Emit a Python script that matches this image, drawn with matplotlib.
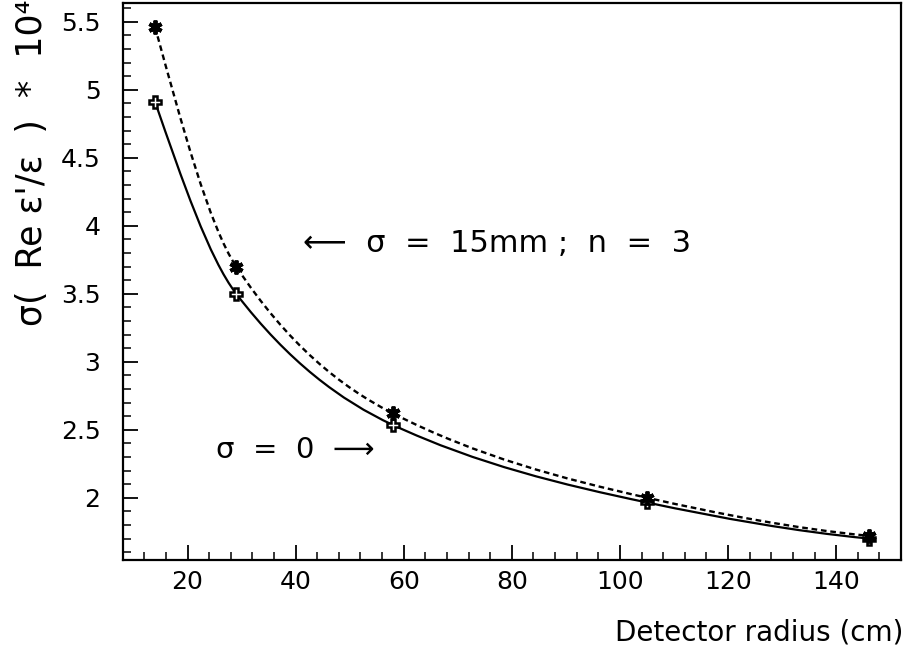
"""Resolution of Re(eps'/eps) versus detector radius."""
import numpy as np
import matplotlib

matplotlib.use("Agg")
import matplotlib.pyplot as plt
from matplotlib.path import Path
from matplotlib.patches import PathPatch
from matplotlib.ticker import MultipleLocator

plt.rcParams.update({
    "font.family": ["DejaVu Sans"],
    "xtick.direction": "in", "ytick.direction": "in",
    "axes.linewidth": 1.6,
})

# detector radius (cm) and sigma(Re eps'/eps) * 1e4
radius = [14, 29, 58, 105, 146]
sig_zero = [4.91, 3.50, 2.535, 1.965, 1.70]     # sigma = 0
sig_15mm = [5.46, 3.70, 2.62, 2.00, 1.72]       # sigma = 15mm ; n = 3


def smooth_path(x, y):
    # monotone cubic through the measured points, drawn as bezier segments
    x = np.asarray(x, float)
    y = np.asarray(y, float)
    h = np.diff(x)
    d = np.diff(y) / h
    m = np.zeros_like(x)
    for i in range(1, len(x) - 1):
        if d[i - 1] * d[i] > 0:
            w1, w2 = 2 * h[i] + h[i - 1], h[i] + 2 * h[i - 1]
            m[i] = (w1 + w2) / (w1 / d[i - 1] + w2 / d[i])
    m[0] = ((2 * h[0] + h[1]) * d[0] - h[0] * d[1]) / (h[0] + h[1])
    m[-1] = ((2 * h[-1] + h[-2]) * d[-1] - h[-1] * d[-2]) / (h[-1] + h[-2])
    verts, codes = [(x[0], y[0])], [Path.MOVETO]
    for i in range(len(h)):
        verts += [(x[i] + h[i] / 3, y[i] + m[i] * h[i] / 3),
                  (x[i + 1] - h[i] / 3, y[i + 1] - m[i + 1] * h[i] / 3),
                  (x[i + 1], y[i + 1])]
        codes += [Path.CURVE4] * 3
    return Path(verts, codes)


fig = plt.figure(figsize=(9.06, 6.52), dpi=100)
ax = fig.add_axes([0.1354, 0.1411, 0.8591, 0.8543])

ax.add_patch(PathPatch(smooth_path(radius, sig_zero), fill=False, color="black", lw=1.6))
ax.add_patch(PathPatch(smooth_path(radius, sig_15mm), fill=False, color="black", lw=1.7,
                       ls=(0, (2.4, 1.6))))
ax.plot(radius, sig_zero, ls="none", marker="P", ms=8, mfc="white", mec="black", mew=1.8)
ax.plot(radius, sig_15mm, ls="none", marker=(6, 2, 0), ms=10, mec="black", mew=2.8)

ax.text(41.4, 3.87, "\u27f5  \u03c3  =  15mm ;  n  =  3", fontsize=22, va="center", ha="left")
ax.text(25.2, 2.35, "\u03c3  =  0  \u27f6", fontsize=21, va="center", ha="left")

ax.set_xlim(8, 152)
ax.set_ylim(1.542, 5.638)
ax.xaxis.set_major_locator(MultipleLocator(20))
ax.xaxis.set_minor_locator(MultipleLocator(4))
ax.yaxis.set_major_locator(MultipleLocator(0.5))
ax.yaxis.set_minor_locator(MultipleLocator(0.1))
ax.yaxis.set_major_formatter(lambda v, p: f"{v:g}")
ax.tick_params(which="major", length=11, width=1.3, labelsize=18, top=False, right=False)
ax.tick_params(which="minor", length=6, width=1.1, top=False, right=False)
ax.tick_params(axis="y", pad=16)
ax.tick_params(axis="x", pad=7)

fig.text(0.035, 1.0, "\u03c3(  Re \u03b5'/\u03b5  )  *  10\u2074", rotation=90, fontsize=25,
         ha="center", va="top")
fig.text(903 / 906, 1 - 632 / 652, "Detector radius (cm)", fontsize=20, ha="right", va="center")

fig.savefig("out.png", dpi=100)
